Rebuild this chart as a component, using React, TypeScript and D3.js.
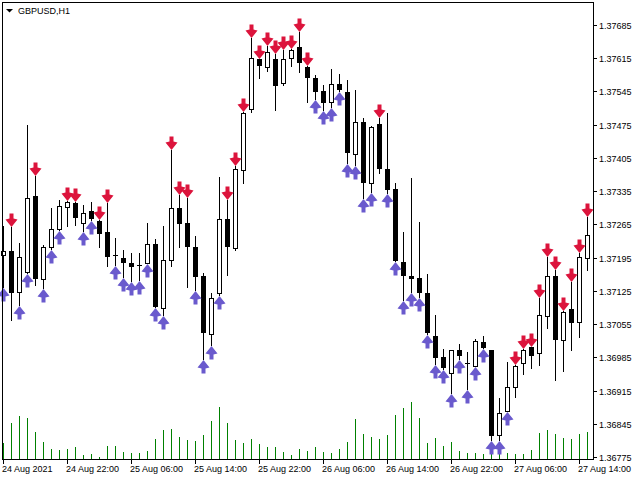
import React, { useRef, useEffect } from 'react';
import * as d3 from 'd3';

// GBPUSD H1 bars
const opens = [1.37201, 1.37209, 1.37123, 1.37165, 1.37325, 1.3715, 1.37217, 1.37255, 1.37302, 1.3731, 1.37268, 1.37293, 1.37272, 1.37249, 1.372, 1.37194, 1.37184, 1.3718, 1.37184, 1.37224, 1.37089, 1.3719, 1.373, 1.37268, 1.37217, 1.37156, 1.37034, 1.3712, 1.37276, 1.37215, 1.3738, 1.37508, 1.37613, 1.37597, 1.37613, 1.37563, 1.37615, 1.37639, 1.37597, 1.37573, 1.37546, 1.37523, 1.37561, 1.37544, 1.37413, 1.37481, 1.37352, 1.37476, 1.37382, 1.3734, 1.37186, 1.37156, 1.37152, 1.3712, 1.3703, 1.36986, 1.36952, 1.37, 1.36974, 1.36967, 1.37017, 1.37, 1.36821, 1.36872, 1.36922, 1.36973, 1.37006, 1.36994, 1.37072, 1.37156, 1.37021, 1.37087, 1.37059, 1.37194];
const highs = [1.37262, 1.37259, 1.37226, 1.37474, 1.37367, 1.37222, 1.373, 1.37316, 1.37314, 1.37312, 1.37306, 1.37312, 1.37274, 1.3731, 1.37236, 1.37211, 1.37205, 1.37205, 1.37268, 1.37234, 1.37262, 1.37422, 1.37327, 1.37321, 1.37241, 1.37163, 1.3712, 1.37365, 1.37316, 1.37388, 1.37502, 1.37658, 1.37614, 1.37641, 1.37624, 1.37632, 1.37634, 1.3767, 1.37598, 1.3758, 1.37559, 1.37592, 1.37582, 1.37569, 1.37548, 1.37489, 1.37472, 1.37489, 1.375, 1.37352, 1.37249, 1.37363, 1.3727, 1.37161, 1.37074, 1.37002, 1.37001, 1.37013, 1.36996, 1.37024, 1.3703, 1.37001, 1.36899, 1.36975, 1.36969, 1.37002, 1.37007, 1.3711, 1.37196, 1.37169, 1.37083, 1.37144, 1.37205, 1.37281];
const lows = [1.37133, 1.37064, 1.37095, 1.37163, 1.37137, 1.37131, 1.37213, 1.37253, 1.37262, 1.37264, 1.37251, 1.37274, 1.37217, 1.37177, 1.37179, 1.37154, 1.37146, 1.37148, 1.37183, 1.3709, 1.37074, 1.37177, 1.37217, 1.37133, 1.37127, 1.36981, 1.37011, 1.37116, 1.37158, 1.37211, 1.37352, 1.37502, 1.37573, 1.37588, 1.37506, 1.37559, 1.37599, 1.37586, 1.37523, 1.37529, 1.37506, 1.37512, 1.37547, 1.37394, 1.3739, 1.37321, 1.37333, 1.37373, 1.37331, 1.37187, 1.37106, 1.37123, 1.37112, 1.37035, 1.36971, 1.36961, 1.3691, 1.36981, 1.36918, 1.36966, 1.37004, 1.36811, 1.36811, 1.36871, 1.36901, 1.3695, 1.36962, 1.36969, 1.37047, 1.36937, 1.36956, 1.37, 1.37028, 1.37169];
const closes = [1.37209, 1.3712, 1.37196, 1.37321, 1.3715, 1.37217, 1.37255, 1.37304, 1.37312, 1.37278, 1.37289, 1.37276, 1.37245, 1.37196, 1.37199, 1.37184, 1.37175, 1.37179, 1.37224, 1.37091, 1.3719, 1.373, 1.37266, 1.37217, 1.37154, 1.37036, 1.3711, 1.37276, 1.37217, 1.37382, 1.375, 1.37615, 1.37599, 1.37628, 1.37557, 1.37613, 1.37632, 1.37605, 1.37573, 1.37544, 1.37521, 1.37561, 1.37548, 1.37415, 1.37481, 1.37352, 1.37471, 1.37382, 1.37337, 1.37188, 1.37156, 1.3715, 1.3712, 1.37036, 1.36983, 1.36962, 1.37, 1.36988, 1.36973, 1.37019, 1.37005, 1.36819, 1.36868, 1.36922, 1.36967, 1.37, 1.36988, 1.37074, 1.37156, 1.37021, 1.3708, 1.37057, 1.37196, 1.37243];
const volumes = [16, 36, 43, 41, 27, 17, 10, 9, 10, 12, 4, 5, 2, 13, 13, 7, 6, 6, 8, 20, 29, 30, 22, 19, 18, 24, 38, 52, 36, 19, 16, 20, 15, 12, 12, 7, 4, 10, 8, 12, 7, 6, 10, 17, 40, 25, 22, 20, 24, 44, 51, 57, 41, 16, 21, 13, 17, 8, 6, 6, 5, 14, 6, 6, 5, 5, 9, 26, 29, 25, 21, 20, 25, 27];

// bars carrying an arrow
const sellBars = [1, 4, 8, 9, 12, 13, 21, 22, 23, 28, 29, 30, 31, 32, 33, 34, 35, 36, 37, 38, 47, 64, 65, 66, 67, 68, 69, 70, 71, 72, 73];
const buyBars = [0, 2, 3, 5, 6, 7, 10, 11, 14, 15, 16, 17, 18, 19, 20, 24, 25, 26, 27, 39, 40, 41, 42, 43, 44, 45, 46, 48, 49, 50, 51, 52, 53, 54, 55, 56, 57, 58, 59, 60, 61, 62, 63];

const priceTicks = [1.37685, 1.37615, 1.37545, 1.37475, 1.37405, 1.37335, 1.37265, 1.37195, 1.37125, 1.37055, 1.36985, 1.36915, 1.36845, 1.36775];
const timeLabels = ['24 Aug 2021', '24 Aug 22:00', '25 Aug 06:00', '25 Aug 14:00', '25 Aug 22:00', '26 Aug 06:00', '26 Aug 14:00', '26 Aug 22:00', '27 Aug 06:00', '27 Aug 14:00'];
const labelEvery = 8;

const FONT = '"Liberation Sans", Arial, sans-serif';

export const CandleChart = () => {
  const ref = useRef<SVGSVGElement | null>(null);

  useEffect(() => {
    if (!ref.current) return;
    const width = 640;
    const height = 480;
    const left = 2, top = 2, right = 593, bottom = 459;

    const svg = d3.select(ref.current);
    svg.selectAll('*').remove();
    svg.attr('width', width).attr('height', height);

    svg.append('rect').attr('width', width).attr('height', height).attr('fill', '#fff');

    const x = d3.scaleLinear().domain([0, opens.length - 1]).range([3, 587]);
    const y = d3.scaleLinear().domain([1.36775, 1.37685]).range([457, 25]);
    const v = d3.scaleLinear().domain([0, d3.max(volumes) as number]).range([0, 57]);
    const py = (p: number) => Math.round(y(p));

    const g = svg.append('g').attr('shape-rendering', 'crispEdges');

    // volumes
    g.selectAll('line.vol')
      .data(volumes)
      .join('line')
      .attr('class', 'vol')
      .attr('x1', (_, i) => Math.round(x(i)) + 0.5)
      .attr('x2', (_, i) => Math.round(x(i)) + 0.5)
      .attr('y1', bottom)
      .attr('y2', d => bottom - Math.round(v(d)))
      .attr('stroke', '#008000')
      .attr('stroke-width', 1);

    const bars = opens.map((o, i) => ({ i, o, h: highs[i], l: lows[i], c: closes[i] }));

    // wicks
    g.selectAll('line.wick')
      .data(bars)
      .join('line')
      .attr('class', 'wick')
      .attr('x1', d => Math.round(x(d.i)) + 0.5)
      .attr('x2', d => Math.round(x(d.i)) + 0.5)
      .attr('y1', d => py(d.h))
      .attr('y2', d => py(d.l) + 1)
      .attr('stroke', '#000');

    // bodies
    g.selectAll('rect.body')
      .data(bars)
      .join('rect')
      .attr('class', 'body')
      .each(function (d) {
        const cx = Math.round(x(d.i));
        const t = py(Math.max(d.o, d.c));
        const b = py(Math.min(d.o, d.c));
        const el = d3.select(this);
        if (d.c >= d.o && b - t >= 2) {
          el.attr('x', cx - 1.5).attr('y', t + 0.5).attr('width', 4).attr('height', b - t)
            .attr('fill', '#fff').attr('stroke', '#000').attr('stroke-width', 1);
        } else {
          el.attr('x', cx - 2).attr('y', t).attr('width', 5).attr('height', Math.max(1, b - t))
            .attr('fill', '#000');
        }
      });

    // arrows: tip at (0,0), drawn pointing down
    const downArrow = 'M-2,-13.5L2,-13.5L2,-8.5L6,-7.5L0,0L-6,-7.5L-2,-8.5Z';
    const ag = svg.append('g');
    ag.selectAll('path.sell')
      .data(sellBars)
      .join('path')
      .attr('class', 'sell')
      .attr('d', downArrow)
      .attr('transform', i => `translate(${Math.round(x(i)) + 0.5},${py(highs[i])})`)
      .attr('fill', '#DC143C');
    ag.selectAll('path.buy')
      .data(buyBars)
      .join('path')
      .attr('class', 'buy')
      .attr('d', downArrow)
      .attr('transform', i => `translate(${Math.round(x(i)) + 0.5},${py(lows[i]) + 1}) scale(1,-1)`)
      .attr('fill', '#6A5ACD');

    // frame
    const frame = svg.append('g').attr('shape-rendering', 'crispEdges').attr('stroke', '#000');
    frame.append('line').attr('x1', left + 0.5).attr('x2', left + 0.5).attr('y1', top).attr('y2', bottom + 1);
    frame.append('line').attr('x1', left).attr('x2', right + 1).attr('y1', top + 0.5).attr('y2', top + 0.5);
    frame.append('line').attr('x1', right + 0.5).attr('x2', right + 0.5).attr('y1', top).attr('y2', bottom + 1);
    frame.append('line').attr('x1', left).attr('x2', right + 1).attr('y1', bottom + 0.5).attr('y2', bottom + 0.5);

    // price axis
    priceTicks.forEach(p => {
      const yy = py(p);
      frame.append('line').attr('x1', right).attr('x2', right + 4).attr('y1', yy + 0.5).attr('y2', yy + 0.5);
      svg.append('text').attr('x', right + 6).attr('y', yy + 4)
        .attr('font-family', FONT).attr('font-size', 9).attr('fill', '#000').text(d3.format('.5f')(p));
    });

    // time axis
    timeLabels.forEach((t, k) => {
      const xx = Math.round(x(k * labelEvery));
      frame.append('line').attr('x1', xx + 0.5).attr('x2', xx + 0.5).attr('y1', bottom).attr('y2', bottom + 5);
      svg.append('text').attr('x', xx - 1).attr('y', 472)
        .attr('font-family', FONT).attr('font-size', 9).attr('fill', '#000').text(t);
    });

    // title
    svg.append('path').attr('d', 'M6,9L13,9L9.5,12.5Z').attr('fill', '#000');
    svg.append('text').attr('x', 18).attr('y', 14)
      .attr('font-family', FONT).attr('font-size', 9).attr('fill', '#000').text('GBPUSD,H1');
  }, []);

  return <svg ref={ref} />;
};

export default function App() {
  return (
    <div style={{ position: 'absolute', left: 0, top: 0, width: 640, height: 480 }}>
      <CandleChart />
    </div>
  );
}
